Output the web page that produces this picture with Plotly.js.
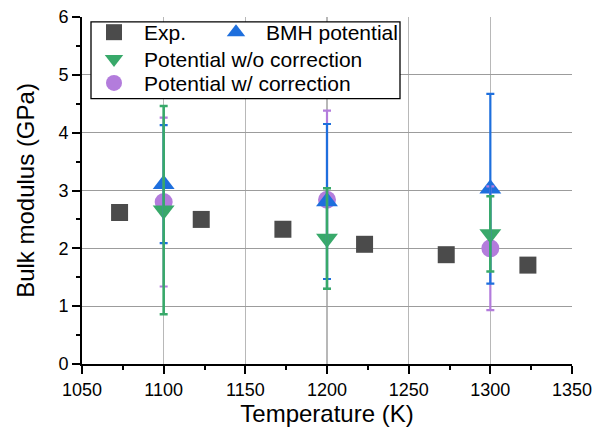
<!DOCTYPE html>
<html>
<head>
<meta charset="utf-8">
<script src="https://cdn.plot.ly/plotly-3.0.1.min.js"></script>
<style>html,body{margin:0;padding:0;background:#fff;}#chart{width:603px;height:438px;}</style>
</head>
<body>
<div id="chart"></div>
<script>
// Experimental data
const expT = [1073, 1123, 1173, 1223, 1273, 1323];
const expB = [2.62, 2.50, 2.33, 2.07, 1.89, 1.71];

// Simulation temperatures
const simT = [1100, 1200, 1300];

// BMH potential
const bmhB = [3.11, 2.81, 3.03];
const bmhErr = [1.02, 1.34, 1.64];

// Potential without correction
const woB = [2.66, 2.17, 2.25];
const woErr = [1.80, 0.87, 0.65];

// Potential with correction
const wB = [2.80, 2.84, 2.00];
const wErr = [1.46, 1.54, 1.07];

const xTicks = [1050, 1100, 1150, 1200, 1250, 1300, 1350];
const yTicks = [0, 1, 2, 3, 4, 5, 6];

const cGrey = '#4b4b4b', cBlue = '#1e6fdd', cGreen = '#38a96a', cPurple = '#b37cdc';
const FONT = 'Arial, "Liberation Sans", sans-serif';

const traces = [
  {x: expT, y: expB, mode: 'markers', name: 'Exp.', legend: 'legend',
   marker: {symbol: 'square', size: 17, color: cGrey}},
  {x: simT, y: wB, mode: 'markers', name: 'Potential w/ correction', legend: 'legend4',
   marker: {symbol: 'circle', size: 18, color: cPurple}},
  {x: simT, y: bmhB, mode: 'markers', name: 'BMH potential', legend: 'legend2',
   marker: {symbol: 'triangle-up', size: 19, color: cBlue}},
  {x: simT, y: woB, mode: 'markers', name: 'Potential w/o correction', legend: 'legend3',
   marker: {symbol: 'triangle-down', size: 19, color: cGreen}},
  // error bars drawn on top of all markers
  {x: simT, y: wB, mode: 'markers', showlegend: false, hoverinfo: 'skip',
   marker: {size: 1, opacity: 0},
   error_y: {type: 'data', array: wErr, visible: true, color: cPurple, thickness: 2.2, width: 4}},
  {x: simT, y: bmhB, mode: 'markers', showlegend: false, hoverinfo: 'skip',
   marker: {size: 1, opacity: 0},
   error_y: {type: 'data', array: bmhErr, visible: true, color: cBlue, thickness: 2.2, width: 4}},
  {x: simT, y: woB, mode: 'markers', showlegend: false, hoverinfo: 'skip',
   marker: {size: 1, opacity: 0},
   error_y: {type: 'data', array: woErr, visible: true, color: cGreen, thickness: 2.6, width: 4}}
];

const L = 82, R = 31, T = 15, B = 74, W = 603, H = 438;
const pw = W - L - R, ph = H - T - B;
const px = v => (v - L) / pw;
const py = v => (H - B - v) / ph;

function leg(xp, yp) {
  return {
    x: px(xp), y: py(yp), xanchor: 'left', yanchor: 'top',
    bgcolor: 'rgba(0,0,0,0)', borderwidth: 0,
    font: {size: 21, family: FONT}, itemwidth: 50
  };
}

const layout = {
  width: W, height: H,
  margin: {l: L, r: R, t: T, b: B},
  paper_bgcolor: '#fff', plot_bgcolor: '#fff',
  font: {family: FONT, color: '#000', size: 18},
  showlegend: true,
  xaxis: {
    range: [1050, 1350], tickvals: xTicks, ticktext: xTicks.map(String),
    ticks: 'outside', ticklen: 8, tickwidth: 2, tickcolor: '#000',
    minor: {dtick: 25, tick0: 1050, ticks: 'outside', ticklen: 4, tickwidth: 2, tickcolor: '#000', showgrid: false},
    showline: true, linecolor: '#000', linewidth: 2,
    showgrid: true, gridcolor: '#b8b8b8', gridwidth: 1.2,
    zeroline: false, tickfont: {size: 18},
    title: {text: 'Temperature (K)', font: {size: 24}, standoff: 5},
    automargin: false
  },
  yaxis: {
    range: [0, 6], tickvals: yTicks, ticktext: yTicks.map(String),
    ticks: 'outside', ticklen: 8, tickwidth: 2, tickcolor: '#000',
    minor: {dtick: 0.5, tick0: 0, ticks: 'outside', ticklen: 4, tickwidth: 2, tickcolor: '#000', showgrid: false},
    showline: true, linecolor: '#000', linewidth: 2,
    showgrid: true, gridcolor: '#9c9c9c', gridwidth: 1.2,
    zeroline: false, tickfont: {size: 18},
    title: {text: 'Bulk modulus (GPa)', font: {size: 24}, standoff: 17},
    automargin: false
  },
  xaxis2: {
    overlaying: 'x', side: 'top', anchor: 'y', range: [1050, 1350], tickvals: xTicks,
    showticklabels: false, ticks: 'inside', ticklen: 8, tickwidth: 2, tickcolor: '#000',
    minor: {dtick: 25, tick0: 1050, ticks: 'inside', ticklen: 4, tickwidth: 2, tickcolor: '#000'},
    showline: true, linecolor: '#000', linewidth: 2, showgrid: false, zeroline: false
  },
  yaxis2: {
    overlaying: 'y', side: 'right', anchor: 'x', range: [0, 6], tickvals: yTicks,
    showticklabels: false, ticks: 'inside', ticklen: 8, tickwidth: 2, tickcolor: '#000',
    minor: {dtick: 0.5, tick0: 0, ticks: 'inside', ticklen: 4, tickwidth: 2, tickcolor: '#000'},
    showline: true, linecolor: '#000', linewidth: 2, showgrid: false, zeroline: false
  },
  legend: leg(84, 10),
  legend2: leg(206, 10),
  legend3: leg(84, 37),
  legend4: leg(84, 61),
  shapes: [{
    type: 'rect', xref: 'paper', yref: 'paper', layer: 'above',
    x0: px(91), x1: px(400), y0: py(97), y1: py(20),
    line: {color: '#000', width: 1.3}, fillcolor: '#fff'
  }]
};

Plotly.newPlot('chart', traces, layout, {displayModeBar: false, staticPlot: true});
</script>
</body>
</html>
